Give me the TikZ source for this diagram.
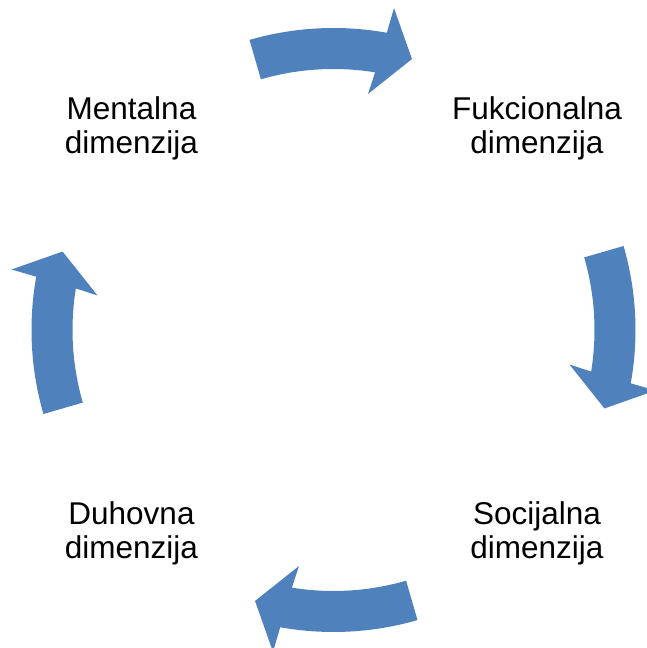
\documentclass[tikz,border=0pt]{standalone}
\usepackage{fontspec}
\setmainfont{Liberation Sans}
\definecolor{arrowblue}{RGB}{79,129,189}
\tikzset{
  lbl/.style={align=center, inner sep=0pt, font=\fontsize{31.5}{33.5}\selectfont, text=black},
  cyclearrow/.style={fill=arrowblue, draw=none}
}
\begin{document}
\begin{tikzpicture}[x=1pt,y=1pt]
\useasboundingbox (0,0) rectangle (647,648);
\coordinate (C) at (333.5,318);
\node[lbl] (ment) at (131.5,519.5) {Mentalna\\dimenzija};
\node[lbl] (fuk) at (537,519.5) {Fukcionalna\\dimenzija};
\node[lbl] (soc) at (537,114.5) {Socijalna\\dimenzija};
\node[lbl] (duh) at (131.5,114.5) {Duhovna\\dimenzija};
\foreach \k in {0,1,2,3}{
  \begin{scope}[shift={(C)}, rotate=-90*\k]
    \fill[cyclearrow] (106.15:302pt) arc[start angle=106.15, end angle=79.83, radius=302pt]
      -- (79.36:327.6pt) -- (73.85:282.1pt) -- (81.68:238.5pt) -- (80.83:261pt)
      arc[start angle=80.83, end angle=106.15, radius=261pt] -- cycle;
  \end{scope}
}
\end{tikzpicture}
\end{document}
